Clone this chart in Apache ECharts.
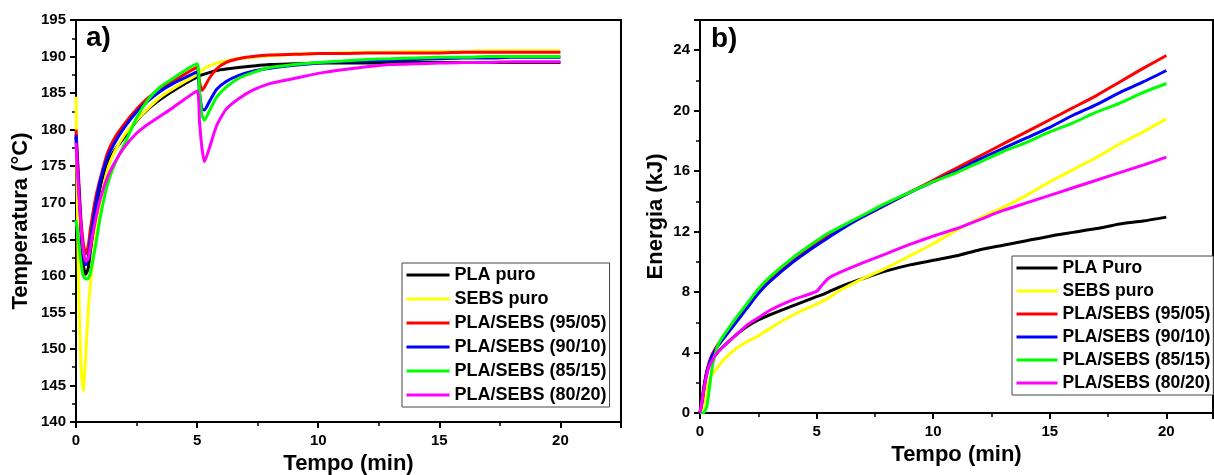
<!DOCTYPE html>
<html>
<head>
<meta charset="utf-8">
<script src="https://cdn.jsdelivr.net/npm/echarts@6/dist/echarts.min.js"></script>
<style>
  html, body { margin: 0; padding: 0; background: #fff; }
  #chart { width: 1214px; height: 475px; }
</style>
</head>
<body>
<div id="chart"></div>
<script>
// ---- data: a) temperatura x tempo ----
const tempTime = [0, 0.1, 0.2, 0.3, 0.4, 0.5, 0.6, 0.8, 1.0, 1.3, 1.6, 2.0, 2.5, 3.0, 3.5, 4.0, 4.5, 5.0, 5.1, 5.2,
                  5.3, 5.5, 5.8, 6.2, 6.7, 7.3, 8, 9, 10, 11, 12, 13, 14, 15, 16, 17, 18, 19, 20];
const tempPLA   = [179, 172, 166, 161.5, 160.2, 161, 163.5, 168, 172, 175.5, 177.2, 179, 181.2, 182.9, 184.2, 185.3, 186.3, 187.2, 187.4, 187.5,
                   187.6, 187.8, 188.1, 188.3, 188.5, 188.7, 188.9, 189.0, 189.1, 189.1, 189.1, 189.2, 189.2, 189.2, 189.2, 189.2, 189.2, 189.2, 189.2];
const tempSEBS  = [184.5, 160, 148, 144.3, 149, 155, 159, 165, 170, 174.5, 177, 179.3, 181.3, 183, 184.5, 185.6, 186.6, 187.5, 187.8, 188.1,
                   188.4, 188.7, 189.1, 189.4, 189.7, 189.9, 190.1, 190.3, 190.4, 190.5, 190.6, 190.6, 190.7, 190.7, 190.7, 190.8, 190.8, 190.8, 190.8];
const temp9505  = [180, 174, 168, 164.5, 163, 164, 166.5, 170.5, 173.3, 176.8, 178.9, 180.8, 182.8, 184.4, 185.6, 186.6, 187.6, 188.5, 186.5, 185.4,
                   185.8, 187.0, 188.3, 189.2, 189.7, 190.0, 190.2, 190.3, 190.4, 190.4, 190.5, 190.5, 190.5, 190.5, 190.6, 190.6, 190.6, 190.6, 190.6];
const temp9010  = [179.3, 173, 167, 163, 161.5, 162.5, 165, 169.5, 173, 176.2, 178.2, 180.3, 182.4, 184, 185.3, 186.3, 187.1, 187.9, 185, 182.8,
                   182.7, 183.8, 185.5, 186.6, 187.4, 188, 188.4, 188.8, 189.1, 189.3, 189.4, 189.5, 189.6, 189.7, 189.8, 189.8, 189.9, 189.9, 189.9];
const temp8515  = [167.6, 165, 162, 160, 159.6, 159.6, 160.5, 164, 168, 172.5, 175.3, 178, 181.6, 184.2, 185.9, 187.0, 188.1, 189, 185, 182,
                   181.3, 182.5, 184.4, 185.8, 187, 187.8, 188.5, 188.9, 189.2, 189.4, 189.6, 189.7, 189.8, 189.9, 189.9, 190.0, 190.0, 190.0, 190.0];
const temp8020  = [178.2, 172, 167, 163.5, 162, 162.3, 164, 167.5, 170.5, 173.5, 175.5, 177.6, 179.5, 180.8, 181.9, 183, 184.2, 185.3, 181, 177.5,
                   175.6, 177.4, 180.5, 182.8, 184.2, 185.4, 186.3, 187, 187.7, 188.2, 188.6, 188.9, 189.0, 189.1, 189.2, 189.2, 189.3, 189.3, 189.3];

// ---- data: b) energia x tempo ----
const enTime = [0, 0.1, 0.2, 0.3, 0.4, 0.5, 0.6, 0.8, 1, 1.5, 2, 2.5, 3, 4, 5, 5.2, 5.5, 6, 7, 8,
                9, 10, 11, 12, 13, 14, 15, 16, 17, 18, 19, 20];
const enPLA  = [0, 1.0, 2.0, 2.8, 3.2, 3.5, 3.7, 4.1, 4.4, 5.1, 5.7, 6.15, 6.5, 7.1, 7.7, 7.8, 8.0, 8.35, 8.9, 9.4,
                9.8, 10.1, 10.4, 10.8, 11.1, 11.4, 11.7, 11.95, 12.2, 12.5, 12.7, 12.96];
const enSEBS = [0, 0.2, 0.8, 1.6, 2.2, 2.5, 2.7, 3.1, 3.5, 4.2, 4.7, 5.1, 5.6, 6.5, 7.2, 7.35, 7.6, 8.1, 8.9, 9.6,
                10.4, 11.2, 12.1, 12.9, 13.6, 14.4, 15.3, 16.1, 16.9, 17.8, 18.6, 19.46];
const en9505 = [0, 1.0, 2.0, 2.8, 3.4, 3.8, 4.1, 4.6, 5.0, 6.0, 7.0, 8.0, 8.8, 10.1, 11.25, 11.45, 11.75, 12.2, 13.0, 13.8,
                14.6, 15.4, 16.2, 17.0, 17.8, 18.6, 19.4, 20.2, 21.0, 21.9, 22.8, 23.65];
const en9010 = [0, 0.8, 1.9, 2.7, 3.3, 3.7, 4.0, 4.5, 4.9, 5.9, 6.9, 7.9, 8.7, 10.0, 11.1, 11.3, 11.6, 12.1, 13.0, 13.8,
                14.6, 15.3, 16.0, 16.8, 17.5, 18.2, 18.9, 19.7, 20.4, 21.2, 21.9, 22.66];
const en8515 = [0, 0, 0.1, 0.5, 1.6, 2.8, 3.6, 4.6, 5.1, 6.2, 7.2, 8.2, 9.0, 10.3, 11.4, 11.6, 11.9, 12.3, 13.1, 13.9,
                14.6, 15.3, 15.9, 16.6, 17.3, 17.9, 18.6, 19.2, 19.9, 20.5, 21.2, 21.8];
const en8020 = [0, 0.9, 1.8, 2.6, 3.1, 3.4, 3.7, 4.1, 4.4, 5.1, 5.8, 6.3, 6.8, 7.5, 8.05, 8.4, 8.9, 9.3, 9.95, 10.55,
                11.15, 11.7, 12.2, 12.8, 13.4, 13.9, 14.4, 14.9, 15.4, 15.9, 16.4, 16.93];

const namesA = ['PLA puro', 'SEBS puro', 'PLA/SEBS (95/05)', 'PLA/SEBS (90/10)', 'PLA/SEBS (85/15)', 'PLA/SEBS (80/20)'];
const namesB = ['PLA Puro', 'SEBS puro', 'PLA/SEBS (95/05)', 'PLA/SEBS (90/10)', 'PLA/SEBS (85/15)', 'PLA/SEBS (80/20)'];
const colors = ['#000000', '#ffff00', '#ff0000', '#0000ff', '#00ff00', '#ff00ff'];

const tempSeries = [tempPLA, tempSEBS, temp9505, temp9010, temp8515, temp8020];
const enSeries = [enPLA, enSEBS, en9505, en9010, en8515, en8020];

const FONT = 'Liberation Sans, Arial, sans-serif';

function mkLine(name, color, times, vals, idx) {
    return {
        type: 'line',
        name: name,
        xAxisIndex: idx,
        yAxisIndex: idx,
        data: times.map((t, i) => [t, vals[i]]),
        symbol: 'none',
        showSymbol: false,
        smooth: 0.2,
        lineStyle: { color: color, width: 3 },
        itemStyle: { color: color },
        animation: false
    };
}

function mkX(idx, max, gap) {
    return {
        type: 'value', gridIndex: idx, min: 0, max: max, interval: 5,
        name: 'Tempo (min)', nameLocation: 'middle', nameGap: gap,
        nameTextStyle: { fontFamily: FONT, fontSize: 22, fontWeight: 'bold', color: '#000' },
        axisLine: { onZero: false, lineStyle: { color: '#000', width: 2 } },
        axisTick: { length: 6, lineStyle: { color: '#000', width: 2 } },
        minorTick: { show: true, splitNumber: 2, length: 4, lineStyle: { color: '#000', width: 1.5 } },
        axisLabel: { fontFamily: FONT, fontSize: 15, fontWeight: 'bold', color: '#000', margin: 11, showMaxLabel: false },
        splitLine: { show: false }
    };
}

function mkY(idx, min, max, interval, name, gap) {
    return {
        type: 'value', gridIndex: idx, min: min, max: max, interval: interval,
        name: name, nameLocation: 'middle', nameGap: gap,
        nameTextStyle: { fontFamily: FONT, fontSize: 22, fontWeight: 'bold', color: '#000' },
        axisLine: { show: true, lineStyle: { color: '#000', width: 2 } },
        axisTick: { length: 6, lineStyle: { color: '#000', width: 2 } },
        minorTick: { show: true, splitNumber: 2, length: 4, lineStyle: { color: '#000', width: 1.5 } },
        axisLabel: { fontFamily: FONT, fontSize: 15, fontWeight: 'bold', color: '#000', margin: 10, showMaxLabel: max % interval === 0 },
        splitLine: { show: false }
    };
}

function mkLegend(names, left, top, iconW, fontSize, gap) {
    return {
        data: names, orient: 'vertical', left: left, top: top,
        itemWidth: iconW, itemHeight: 18, itemGap: gap,
        padding: [3, 3, 3, 3],
        borderColor: '#444', borderWidth: 1,
        backgroundColor: '#fff',
        itemStyle: { opacity: 0, borderWidth: 0 },
        lineStyle: { width: 3 },
        textStyle: { fontFamily: FONT, fontSize: fontSize, fontWeight: 'bold', color: '#000' },
        selectedMode: false
    };
}

const chart = echarts.init(document.getElementById('chart'));

const series = [];
namesA.forEach((n, i) => series.push(mkLine(n, colors[i], tempTime, tempSeries[i], 0)));
namesB.forEach((n, i) => series.push(mkLine(n, colors[i], enTime, enSeries[i], 1)));

chart.setOption({
    animation: false,
    backgroundColor: '#fff',
    grid: [
        { left: 76, top: 20, width: 545, height: 402, show: true, borderColor: '#000', borderWidth: 2, outerBoundsMode: 'none' },
        { left: 700, top: 20, right: 1, bottom: 62, show: true, borderColor: '#000', borderWidth: 2, outerBoundsMode: 'none' }
    ],
    xAxis: [mkX(0, 22.5, 30), mkX(1, 22, 25)],
    yAxis: [
        mkY(0, 140, 195, 5, 'Temperatura (°C)', 44),
        mkY(1, 0, 26, 4, 'Energia (kJ)', 33)
    ],
    legend: [mkLegend(namesA, 402, 263, 43, 18, 6), mkLegend(namesB, 1012, 256, 41, 17.5, 5)],
    graphic: [
        { type: 'text', left: 86, top: 24, style: { text: 'a)', font: 'bold 28px ' + FONT, fill: '#000' } },
        { type: 'text', left: 711, top: 25, style: { text: 'b)', font: 'bold 28px ' + FONT, fill: '#000' } }
    ],
    series: series
});
</script>
</body>
</html>
